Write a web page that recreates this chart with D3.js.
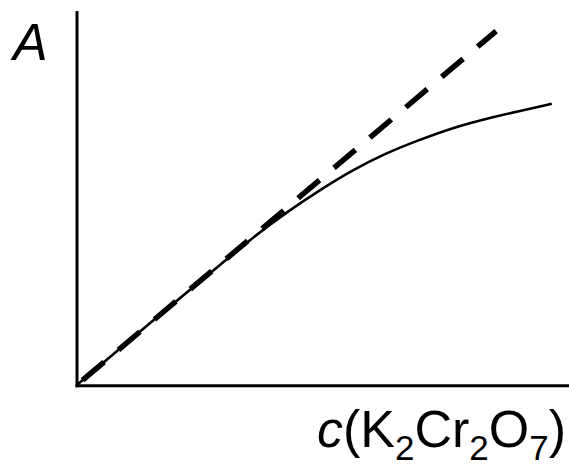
<!DOCTYPE html>
<html>
<head>
<meta charset="utf-8">
<script src="https://cdn.jsdelivr.net/npm/d3@7"></script>
<style>
  body { margin: 0; background: #fff; }
  svg { display: block; }
  text { font-family: "Liberation Sans", Arial, sans-serif; fill: #000; }
</style>
</head>
<body>
<div id="chart"></div>
<script>
// Concentration (relative units) and absorbance
var conc = [0, 0.149, 0.312, 0.358, 0.427, 0.494, 0.561, 0.630, 0.697, 0.764, 0.834, 0.901, 0.965];
var absorb = [0, 0.167, 0.345, 0.396, 0.464, 0.523, 0.577, 0.623, 0.658, 0.690, 0.715, 0.735, 0.754];

// Ideal Beer-Lambert line (dashed): start and end
var idealConc = [0, 0.852];
var idealAbs = [0, 0.949];

var width = 569, height = 470;

var svg = d3.select("#chart")
  .append("svg")
  .attr("width", width)
  .attr("height", height);

var x = d3.scaleLinear().domain([0, 1]).range([76.5, 569]);
var y = d3.scaleLinear().domain([0, 1]).range([385.3, 12]);

// Axes, no ticks, just the thick lines
var xAxis = svg.append("g")
  .attr("transform", "translate(0," + y(0) + ")")
  .call(d3.axisBottom(x).ticks(0).tickSizeOuter(0));
var yAxis = svg.append("g")
  .attr("transform", "translate(" + x(0) + ",0)")
  .call(d3.axisLeft(y).ticks(0).tickSizeOuter(0));

[xAxis, yAxis].forEach(function(g) {
  g.select(".domain")
    .attr("stroke", "#000")
    .attr("stroke-width", 3)
    .attr("stroke-linecap", "square");
});

// Dashed ideal line
var idealPts = idealConc.map(function(c, i) { return [c, idealAbs[i]]; });
svg.append("path")
  .datum(idealPts)
  .attr("fill", "none")
  .attr("stroke", "#000")
  .attr("stroke-width", 5.5)
  .attr("stroke-dasharray", "28,19")
  .attr("stroke-dashoffset", 39)
  .attr("d", d3.line()
    .x(function(d) { return x(d[0]); })
    .y(function(d) { return y(d[1]); }));

// Measured curve (solid)
var realPts = conc.map(function(c, i) { return [c, absorb[i]]; });
svg.append("path")
  .datum(realPts)
  .attr("fill", "none")
  .attr("stroke", "#000")
  .attr("stroke-width", 2.6)
  .attr("d", d3.line()
    .curve(d3.curveBasis)
    .x(function(d) { return x(d[0]); })
    .y(function(d) { return y(d[1]); }));

// Axis labels
svg.append("text")
  .attr("x", 13)
  .attr("y", 60)
  .attr("font-size", 52)
  .attr("font-style", "italic")
  .text("A");

var xl = svg.append("text")
  .attr("x", 566)
  .attr("y", 447)
  .attr("font-size", 52)
  .attr("text-anchor", "end");
xl.append("tspan").attr("font-style", "italic").text("c");
xl.append("tspan").text("(K");
xl.append("tspan").attr("font-size", 35).attr("dy", 13).text("2");
xl.append("tspan").attr("dy", -13).text("Cr");
xl.append("tspan").attr("font-size", 35).attr("dy", 13).text("2");
xl.append("tspan").attr("dy", -13).text("O");
xl.append("tspan").attr("font-size", 35).attr("dy", 13).text("7");
xl.append("tspan").attr("dy", -13).text(")");
</script>
</body>
</html>
